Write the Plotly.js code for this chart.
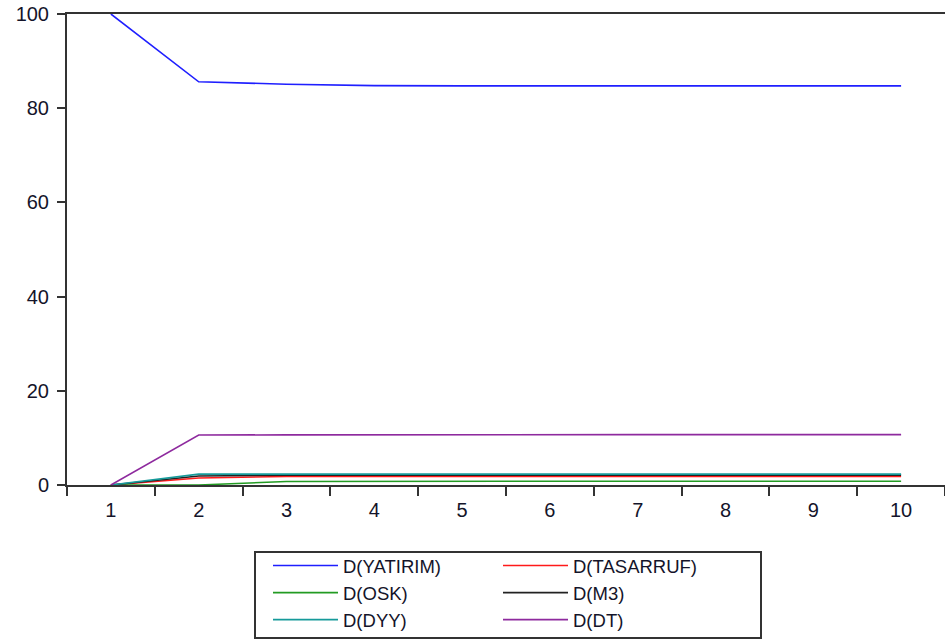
<!DOCTYPE html>
<html>
<head>
<meta charset="utf-8">
<script src="https://cdn.plot.ly/plotly-3.0.1.min.js"></script>
<style>
  html, body { margin: 0; padding: 0; background: #fff; }
  #chart { width: 945px; height: 643px; }
</style>
</head>
<body>
<div id="chart"></div>
<script>
// Variance decomposition of D(YATIRIM), periods 1-10
const periods = ['1', '2', '3', '4', '5', '6', '7', '8', '9', '10'];
const yatirim  = [100, 85.6, 85.1, 84.8, 84.75, 84.75, 84.75, 84.75, 84.75, 84.75];
const tasarruf = [0, 1.5, 1.8, 1.8, 1.8, 1.8, 1.8, 1.8, 1.8, 1.8];
const osk      = [0, 0, 0.75, 0.8, 0.8, 0.8, 0.8, 0.8, 0.8, 0.8];
const m3       = [0, 1.9, 2.1, 2.1, 2.1, 2.1, 2.1, 2.1, 2.1, 2.1];
const dyy      = [0, 2.3, 2.3, 2.3, 2.3, 2.3, 2.3, 2.3, 2.3, 2.3];
const dt       = [0, 10.6, 10.65, 10.7, 10.7, 10.7, 10.7, 10.7, 10.7, 10.7];

const seriesNames = ['D(YATIRIM)', 'D(TASARRUF)', 'D(OSK)', 'D(M3)', 'D(DYY)', 'D(DT)'];
const seriesData = [yatirim, tasarruf, osk, m3, dyy, dt];
const seriesColors = ['#1f1fff', '#ff1a1a', '#239b23', '#222222', '#169a9a', '#8e2a9e'];
// two legend columns: left column gets the 1st, 3rd, 5th series
const legendColumn = ['legend', 'legend2', 'legend', 'legend2', 'legend', 'legend2'];

const traces = seriesNames.map((name, i) => ({
  type: 'scatter',
  mode: 'lines',
  name: name,
  x: periods,
  y: seriesData[i],
  legend: legendColumn[i],
  line: { color: seriesColors[i], width: 1.6 },
  hoverinfo: 'skip'
}));

const tickFont = { family: 'Liberation Sans, Arial, sans-serif', size: 20, color: '#14142a' };
const legendFont = { family: 'Liberation Sans, Arial, sans-serif', size: 18.5, color: '#14142a' };

// plot area in pixels, used to place the legend columns and frame
const plotLeft = 67, plotWidth = 878, plotBottom = 485, plotHeight = 471;

function legendColumnLayout(leftPx) {
  return {
    orientation: 'v',
    x: (leftPx - plotLeft) / plotWidth,
    xanchor: 'left',
    xref: 'paper',
    y: 1 - 547 / 643,
    yanchor: 'top',
    yref: 'container',
    itemwidth: 65,
    borderwidth: 0,
    bgcolor: 'rgba(0,0,0,0)',
    font: legendFont,
    traceorder: 'normal'
  };
}

const layout = {
  width: 945,
  height: 643,
  margin: { l: 67, r: 0, t: 14, b: 158 },
  paper_bgcolor: '#ffffff',
  plot_bgcolor: '#ffffff',
  showlegend: true,
  xaxis: {
    type: 'category',
    range: [-0.5, 9.5],
    showgrid: false,
    zeroline: false,
    showline: true,
    linecolor: '#333333',
    linewidth: 2,
    mirror: true,
    ticks: 'outside',
    tickson: 'boundaries',
    ticklen: 9,
    tickwidth: 2,
    tickcolor: '#333333',
    tickfont: tickFont,
    ticklabelstandoff: 6,
    automargin: false,
    fixedrange: true
  },
  yaxis: {
    range: [0, 100],
    tickvals: [0, 20, 40, 60, 80, 100],
    showgrid: false,
    zeroline: false,
    showline: true,
    linecolor: '#333333',
    linewidth: 2,
    ticks: 'outside',
    ticklen: 8,
    tickwidth: 2,
    tickcolor: '#333333',
    tickfont: tickFont,
    ticklabelstandoff: 4,
    automargin: false,
    fixedrange: true
  },
  legend: legendColumnLayout(268),
  legend2: legendColumnLayout(498),
  shapes: [{
    type: 'rect',
    xref: 'paper',
    yref: 'paper',
    x0: (255 - plotLeft) / plotWidth,
    x1: (761 - plotLeft) / plotWidth,
    y0: (plotBottom - 552) / plotHeight,
    y1: (plotBottom - 638) / plotHeight,
    line: { color: '#333333', width: 2 },
    fillcolor: 'rgba(0,0,0,0)'
  }]
};

Plotly.newPlot('chart', traces, layout, { staticPlot: true, displayModeBar: false });
</script>
</body>
</html>
